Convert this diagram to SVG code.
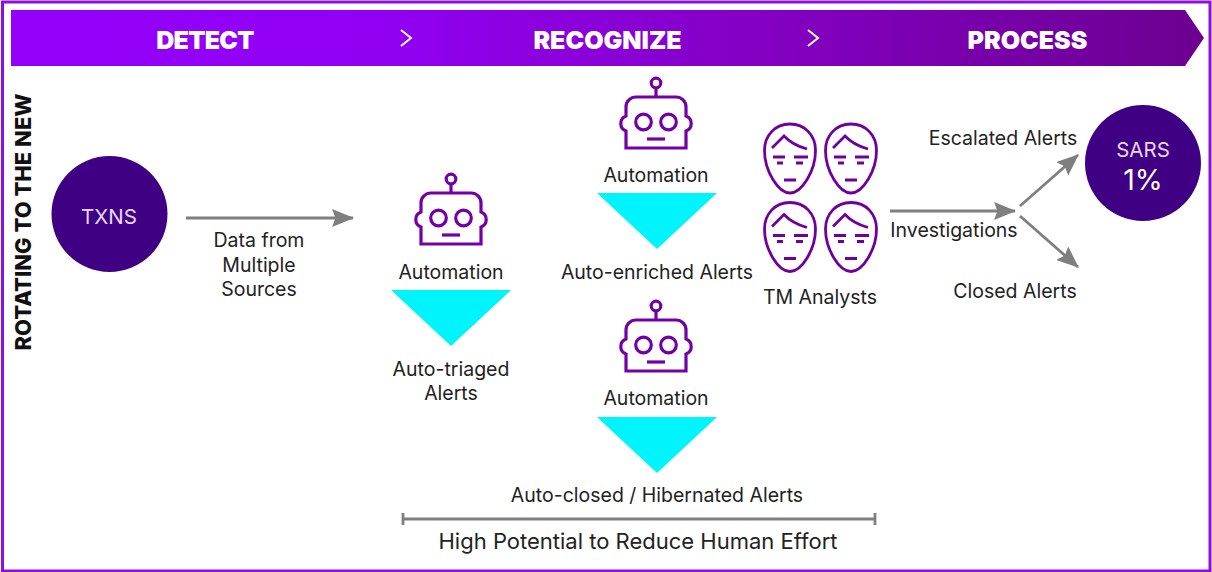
<svg xmlns="http://www.w3.org/2000/svg" width="1212" height="572" viewBox="0 0 1212 572">
<defs>
<linearGradient id="g" x1="0" y1="0" x2="1" y2="0"><stop offset="0" stop-color="#9400fa"/><stop offset="0.3" stop-color="#9200f4"/><stop offset="0.62" stop-color="#8400c4"/><stop offset="1" stop-color="#6c0090"/></linearGradient>
<marker id="a" viewBox="0 0 10 10" refX="9.5" refY="5" markerWidth="22" markerHeight="18" markerUnits="userSpaceOnUse" orient="auto" preserveAspectRatio="none"><path d="M0 0L10 5L0 10L1.5 5Z" fill="#7f7f7f"/></marker>
<g id="robot" fill="none" stroke="#7200a6" stroke-width="3.2">
<circle cx="0" cy="-39" r="4.8"/><path d="M0 -34V-25"/>
<path d="M-30 26V9A8 8 0 0 1 -30 -6V-15A10 10 0 0 1 -20 -25H20A10 10 0 0 1 30 -15V-6A8 8 0 0 1 30 9V26Z"/>
<circle cx="-12.500" cy="0" r="7.800"/><circle cx="12.500" cy="0" r="7.800"/>
<path d="M-9 17H9"/>
</g>
<g id="face" fill="none" stroke="#6f009e" stroke-width="2.8">
<path d="M0 -34.500C-15 -34.500 -25.500 -23 -25.500 -8C-25.500 12 -12 34.500 0 34.500C12 34.500 25.500 12 25.500 -8C25.500 -23 15 -34.500 0 -34.500Z"/>
<path d="M-18 -10.500L-6 -22.500C1 -15 8 -12 17 -9.500"/>
<path d="M-17 -1.500H-5M4 -1.500H18M-13 4.500H-7M6 4.500H13M-6 21.500H6" stroke-width="3"/>
</g>
<path id="tri" d="M-60 -28H60L0 28Z" fill="#00f4fb"/>
</defs>
<style>
text{font-family:"Inter","Liberation Sans",sans-serif;fill:#222;font-size:19.500px;text-anchor:middle}
.h{font-family:"Inter","Liberation Sans",sans-serif;font-weight:900;fill:#fff;font-size:25px}
.c{stroke:#7f7f7f;stroke-width:2.800;fill:none}
.chev{stroke:#fff;stroke-width:2;fill:none}
</style>
<rect x="2.500" y="2" width="1207.500" height="569" fill="#fff" stroke="#8a10e0" stroke-width="3"/>
<g id="banner">
<path d="M11 10H1185L1204 38L1185 66H11Z" fill="url(#g)"/>
<text class="h" x="205" y="49" style="letter-spacing:-0.700px">DETECT</text>
<text class="h" x="607.500" y="49">RECOGNIZE</text>
<text class="h" x="1027.500" y="49">PROCESS</text>
<path class="chev" d="M401 30L411 38L401 46M808 30L818 38L808 46"/>
</g>
<text x="31" y="222" transform="rotate(-90 31 222)" style="font-weight:800;font-size:22px;fill:#111">ROTATING TO THE NEW</text>
<g id="txns"><circle cx="109.500" cy="214" r="58" fill="#3f0084"/><text x="109" y="224" style="fill:#e8d8f5;font-size:20.500px">TXNS</text></g>
<g id="sars"><circle cx="1143" cy="163" r="58" fill="#3f0084"/><text x="1143" y="157" style="fill:#e8d8f5;font-size:20.500px">SARS</text><text x="1143" y="190" style="fill:#fff;font-size:28.500px">1%</text></g>
<g id="connectors">
<path class="c" d="M186 218H353" marker-end="url(#a)"/>
<path class="c" d="M890 211H1015" marker-end="url(#a)"/>
<path class="c" d="M1020 206L1078 155" marker-end="url(#a)"/>
<path class="c" d="M1020 216L1078 267" marker-end="url(#a)"/>
<path class="c" d="M403 519H875M403 513V525M875 513V525"/>
</g>
<g id="data-label"><text x="259" y="247">Data from</text><text x="259" y="272">Multiple</text><text x="259" y="296">Sources</text></g>
<g id="auto-triaged"><use href="#robot" x="451" y="218"/><text x="451" y="279">Automation</text><use href="#tri" x="451" y="318"/><text x="451" y="376">Auto-triaged</text><text x="451" y="400">Alerts</text></g>
<g id="auto-enriched"><use href="#robot" x="656" y="122"/><text x="656" y="182">Automation</text><use href="#tri" x="657" y="221"/><text x="657" y="279">Auto-enriched Alerts</text></g>
<g id="auto-closed"><use href="#robot" x="656" y="345"/><text x="656" y="405">Automation</text><use href="#tri" x="657" y="445"/><text x="657" y="502">Auto-closed / Hibernated Alerts</text></g>
<g id="analysts"><use href="#face" x="790" y="158.500"/><use href="#face" x="851" y="158.500"/><use href="#face" x="790" y="237"/><use href="#face" x="851" y="237"/><text x="820" y="304">TM Analysts</text></g>
<text x="954" y="237">Investigations</text>
<text x="1003" y="145">Escalated Alerts</text>
<text x="1015" y="298">Closed Alerts</text>
<text x="638" y="549" style="font-size:22px">High Potential to Reduce Human Effort</text>
</svg>
